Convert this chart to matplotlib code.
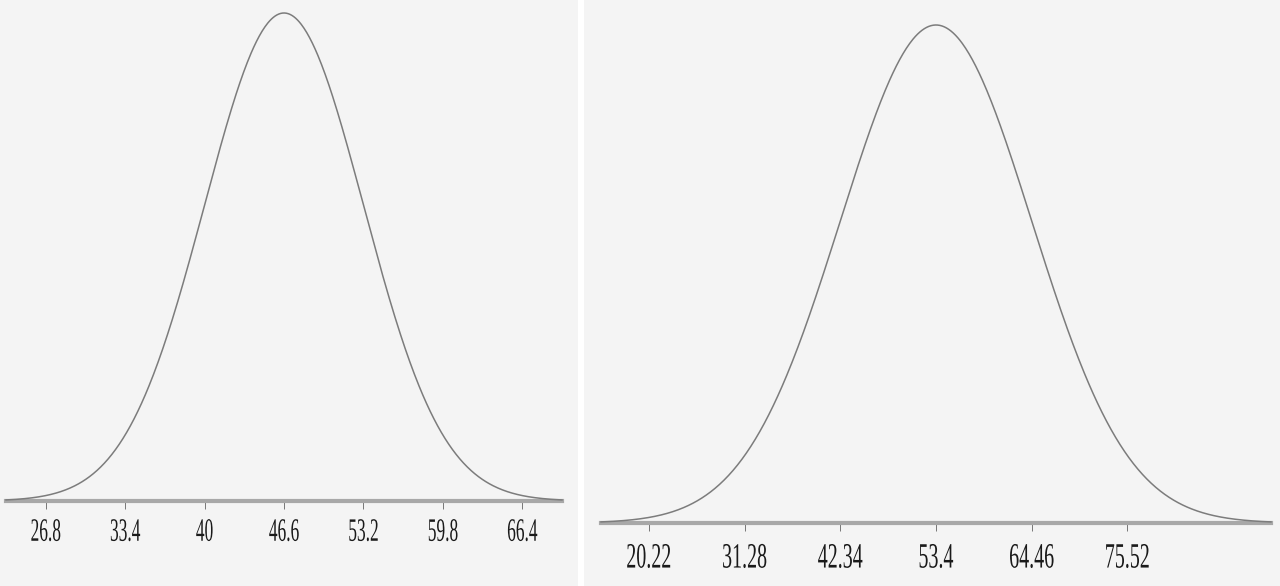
import numpy as np
import matplotlib
matplotlib.use("Agg")
import matplotlib.pyplot as plt
from matplotlib.patches import Rectangle
from matplotlib.patheffects import AbstractPathEffect
from matplotlib.transforms import Affine2D

left_mean, left_sd = 46.6, 6.6
left_ticks = [26.8, 33.4, 40, 46.6, 53.2, 59.8, 66.4]
left_labels = ["26.8", "33.4", "40", "46.6", "53.2", "59.8", "66.4"]

right_mean, right_sd = 53.4, 11.06
right_ticks = [20.22, 31.28, 42.34, 53.4, 64.46, 75.52]
right_labels = ["20.22", "31.28", "42.34", "53.4", "64.46", "75.52"]

W, H = 1280, 586
bg = "#f4f4f4"


class VStretch(AbstractPathEffect):
    """Stretch glyphs vertically around the baseline (tall narrow labels)."""
    def __init__(self, sy):
        super().__init__()
        self.sy = sy

    def draw_path(self, renderer, gc, tpath, affine, rgbFace=None):
        renderer.draw_path(gc, tpath, Affine2D().scale(1, self.sy) + affine, rgbFace)


def px_rect(x0, x1, y_top, y_base):
    return [x0 / W, (H - y_base) / H, (x1 - x0) / W, (y_base - y_top) / H]


def draw_curve(ax, mean, sd, ticks, labels, fsize, sy, pad):
    x = np.linspace(mean - 3.5 * sd, mean + 3.5 * sd, 600)
    y = np.exp(-0.5 * ((x - mean) / sd) ** 2) / (sd * np.sqrt(2 * np.pi))
    ax.plot(x, y, color="#7c7c7c", lw=1.1, clip_on=False, zorder=3)
    ax.set_xlim(x[0], x[-1])
    ax.set_ylim(0, y.max())
    ax.set_facecolor("none")
    for s in ["top", "right", "left"]:
        ax.spines[s].set_visible(False)
    ax.spines["bottom"].set_color("#a8a8a8")
    ax.spines["bottom"].set_linewidth(3)
    ax.spines["bottom"].set_zorder(2)
    ax.set_yticks([])
    ax.set_xticks(ticks)
    ax.set_xticklabels(labels, fontfamily="Liberation Serif", fontsize=fsize, color="#1a1a1a")
    ax.tick_params(axis="x", length=6, width=0.7, color="#777777", pad=pad)
    for t in ax.get_xticklabels():
        t.set_path_effects([VStretch(sy)])


fig = plt.figure(figsize=(W / 100, H / 100), dpi=100, facecolor="white")
fig.add_artist(Rectangle((0, 0), 578 / W, 1, transform=fig.transFigure,
                         facecolor=bg, edgecolor="none", zorder=-5))
fig.add_artist(Rectangle((584 / W, 0), 1 - 584 / W, 1, transform=fig.transFigure,
                         facecolor=bg, edgecolor="none", zorder=-5))

ax1 = fig.add_axes(px_rect(6, 562, 13, 501))
draw_curve(ax1, left_mean, left_sd, left_ticks, left_labels, 12.5, 1.88, 14)

ax2 = fig.add_axes(px_rect(601, 1271, 25, 523))
draw_curve(ax2, right_mean, right_sd, right_ticks, right_labels, 14.4, 1.78, 16)

fig.savefig("out.png", dpi=100, facecolor=fig.get_facecolor())
